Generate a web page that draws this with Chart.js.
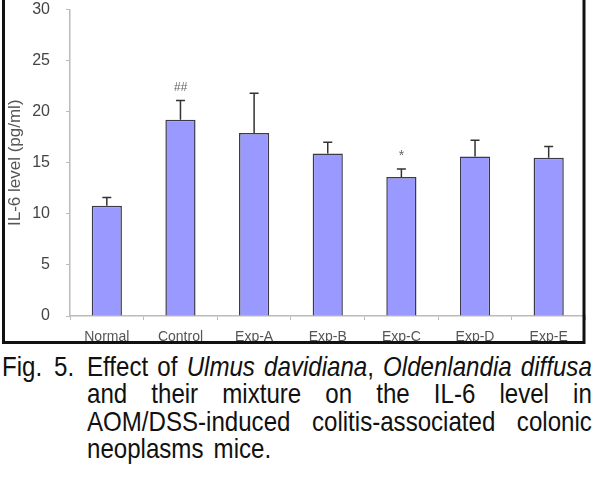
<!DOCTYPE html>
<html lang="en">
<head>
    <meta charset="UTF-8">
    <title>IL-6 level</title>
    <style>
        body { margin: 0; background: #fff; }
        #wrap { position: relative; width: 595px; height: 345px; }
        #caption {
            position: absolute; left: 0; top: 353px; width: 595px;
            font-family: "Liberation Sans", Arial, sans-serif;
            font-size: 28px; line-height: 27.3px; color: #111;
        }
        #caption .fig { position: absolute; left: 2px; top: 0; white-space: nowrap; transform: scaleX(0.86); transform-origin: left top; word-spacing: 6px; }
        #caption .line {
            margin-left: 87px; width: 587px; white-space: nowrap;
            text-align: justify; text-align-last: justify;
            transform: scaleX(0.86); transform-origin: left top;
        }
        #caption .line.last { text-align-last: left; word-spacing: 4px; }
    </style>
</head>
<body>
    <div id="wrap">
        <canvas id="myChart"></canvas>
    </div>
    <div id="caption">
        <span class="fig">Fig. 5.</span>
        <div class="line">Effect of <i>Ulmus davidiana</i>, <i>Oldenlandia diffusa</i></div>
        <div class="line">and their mixture on the IL-6 level in</div>
        <div class="line">AOM/DSS-induced colitis-associated colonic</div>
        <div class="line last">neoplasms mice.</div>
    </div>
</body>
<script src="https://cdn.jsdelivr.net/npm/chart.js@4.4.0/dist/chart.umd.min.js"></script>
<script>
    // data
    var grupos = ["Normal", "Control", "Exp-A", "Exp-B", "Exp-C", "Exp-D", "Exp-E"];
    var valores = [10.8, 19.2, 17.9, 15.9, 13.6, 15.6, 15.5];
    var errores = [0.8, 1.9, 3.9, 1.1, 0.8, 1.6, 1.1];
    var marcas = ["", "##", "", "", "*", "", ""];
    var ticksY = [0, 5, 10, 15, 20, 25, 30];

    // upper error bars + significance marks
    var errorBars = {
        id: 'errorBars',
        afterDatasetsDraw: function(chart) {
            var ctx = chart.ctx;
            var meta = chart.getDatasetMeta(0);
            var y = chart.scales.y;
            ctx.save();
            ctx.strokeStyle = '#333';
            ctx.lineWidth = 1.5;
            meta.data.forEach(function(bar, i) {
                var top = y.getPixelForValue(valores[i] + errores[i]);
                ctx.beginPath();
                ctx.moveTo(bar.x, bar.y);
                ctx.lineTo(bar.x, top);
                ctx.moveTo(bar.x - 4.5, top);
                ctx.lineTo(bar.x + 4.5, top);
                ctx.stroke();
                if (marcas[i]) {
                    ctx.fillStyle = '#666';
                    ctx.textAlign = 'center';
                    ctx.textBaseline = 'middle';
                    if (marcas[i] == '*') {
                        ctx.font = '14px "Liberation Sans", sans-serif';
                        ctx.fillText(marcas[i], bar.x, top - 13);
                    } else {
                        ctx.font = 'italic 12px "Liberation Sans", sans-serif';
                        ctx.fillText(marcas[i], bar.x, top - 13);
                    }
                }
            });
            ctx.restore();
        }
    };

    // black frame around the chart (open at the top, as in the scan)
    var marco = {
        id: 'marco',
        afterDraw: function(chart) {
            var ctx = chart.ctx;
            ctx.save();
            ctx.strokeStyle = '#111';
            ctx.lineWidth = 3;
            ctx.beginPath();
            ctx.moveTo(3.5, 0);
            ctx.lineTo(3.5, 342.5);
            ctx.lineTo(584, 342.5);
            ctx.lineTo(584, 0);
            ctx.stroke();
            ctx.restore();
        }
    };

    var ctx = document.getElementById('myChart').getContext('2d');
    var myChart = new Chart(ctx, {
        type: 'bar',
        data: {
            labels: grupos,
            datasets: [{
                data: valores,
                backgroundColor: '#9999ff',
                borderColor: '#3a3a4a',
                borderWidth: 1.5,
                categoryPercentage: 1,
                barPercentage: 0.41
            }]
        },
        options: {
            responsive: true,
            maintainAspectRatio: false,
            animation: false,
            layout: { padding: { top: 0, right: 9.5, left: 0, bottom: 0 } },
            plugins: { legend: { display: false }, tooltip: { enabled: false } },
            scales: {
                x: {
                    afterFit: function(scale) { scale.height = 29; },
                    grid: { drawOnChartArea: false, drawTicks: true, tickLength: 4, color: '#bbb' },
                    border: { color: '#bbb', width: 1.5 },
                    ticks: {
                        color: '#555', padding: 9, maxRotation: 0, autoSkip: false,
                        font: { family: '"Liberation Sans", Arial, sans-serif', size: 14 }
                    }
                },
                y: {
                    min: 0, max: 30,
                    afterFit: function(scale) {
                        scale.width = 70;
                        scale.paddingTop = 9.5;
                        scale.paddingBottom = 0;
                    },
                    afterBuildTicks: function(scale) {
                        scale.ticks = ticksY.map(function(v) { return { value: v }; });
                    },
                    grid: { drawOnChartArea: false, drawTicks: true, tickLength: 4, color: '#bbb' },
                    border: { color: '#bbb', width: 1.5 },
                    ticks: {
                        color: '#444', padding: 16,
                        font: { family: '"Liberation Sans", Arial, sans-serif', size: 16 }
                    },
                    title: {
                        display: true,
                        text: 'IL-6 level (pg/ml)',
                        color: '#555',
                        padding: { top: 5, bottom: 0 },
                        font: { family: '"Liberation Sans", Arial, sans-serif', size: 17 }
                    }
                }
            }
        },
        plugins: [errorBars, marco]
    });
</script>
</html>
